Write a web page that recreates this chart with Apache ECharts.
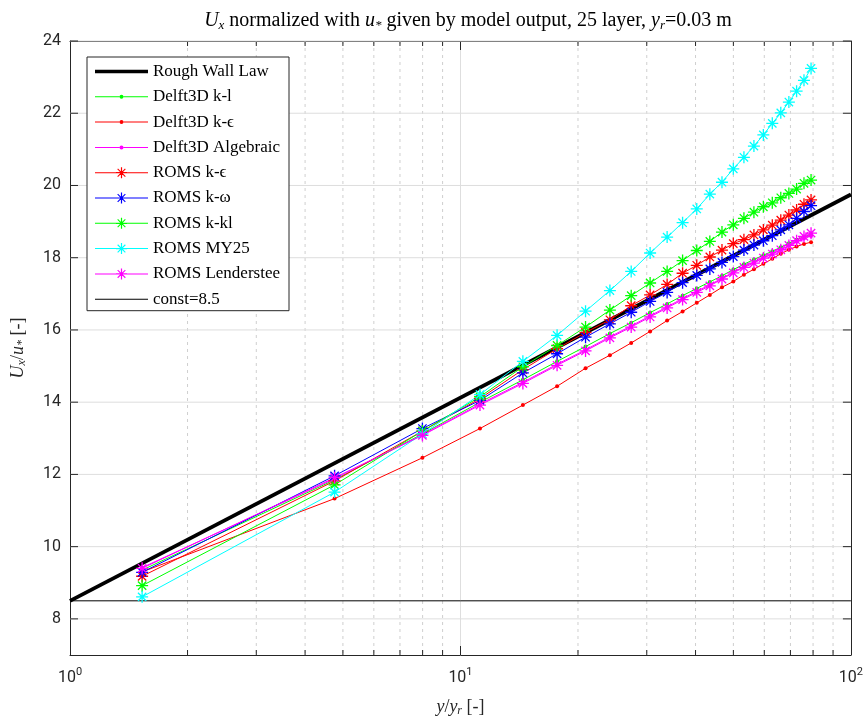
<!DOCTYPE html>
<html>
<head>
<meta charset="utf-8">
<script src="https://cdn.jsdelivr.net/npm/echarts@6/dist/echarts.min.js"></script>
<style>html,body{margin:0;padding:0;background:#fff}#c{width:866px;height:722px}</style>
</head>
<body>
<div id="c"></div>
<script>
// ---- data ----
const xPos = [1.53, 4.76, 7.99, 11.22, 14.45, 17.68, 20.91, 24.14, 27.37, 30.60, 33.83, 37.06, 40.29, 43.52, 46.75, 49.98, 53.21, 56.44, 59.67, 62.90, 66.13, 69.36, 72.59, 75.82, 79.05];
const roughLawX = [1, 100];
const roughLawY = [8.5, 19.75];
const constX = [1, 100];
const constY = [8.5, 8.5];
const delftKL    = [9.35, 11.85, 13.12, 14.00, 14.62, 15.13, 15.54, 15.90, 16.20, 16.48, 16.72, 16.95, 17.15, 17.33, 17.50, 17.67, 17.82, 17.95, 18.07, 18.18, 18.29, 18.40, 18.50, 18.58, 18.64];
const delftKEps  = [9.30, 11.33, 12.46, 13.27, 13.92, 14.44, 14.94, 15.30, 15.64, 15.96, 16.26, 16.51, 16.75, 16.97, 17.18, 17.34, 17.53, 17.68, 17.83, 17.97, 18.11, 18.22, 18.31, 18.38, 18.43];
const delftAlg   = [9.42, 11.88, 13.10, 13.95, 14.55, 15.05, 15.45, 15.81, 16.11, 16.39, 16.64, 16.87, 17.07, 17.25, 17.43, 17.60, 17.75, 17.88, 18.00, 18.11, 18.22, 18.33, 18.44, 18.53, 18.60];
const romsKEps   = [9.18, 11.82, 13.20, 14.10, 14.90, 15.48, 15.93, 16.28, 16.67, 16.97, 17.26, 17.57, 17.79, 18.02, 18.21, 18.39, 18.50, 18.63, 18.77, 18.90, 19.04, 19.18, 19.32, 19.48, 19.60];
const romsKOmega = [9.29, 11.96, 13.27, 14.05, 14.81, 15.34, 15.80, 16.17, 16.49, 16.79, 17.04, 17.31, 17.51, 17.69, 17.87, 18.03, 18.21, 18.35, 18.47, 18.61, 18.77, 18.91, 19.09, 19.28, 19.44];
const romsKKL    = [8.92, 11.71, 13.20, 14.15, 14.98, 15.57, 16.08, 16.55, 16.95, 17.30, 17.62, 17.92, 18.20, 18.45, 18.71, 18.91, 19.09, 19.26, 19.41, 19.52, 19.66, 19.78, 19.90, 20.06, 20.15];
const romsMY25   = [8.61, 11.51, 13.12, 14.21, 15.13, 15.85, 16.52, 17.09, 17.62, 18.13, 18.57, 18.97, 19.35, 19.76, 20.09, 20.46, 20.78, 21.09, 21.40, 21.72, 22.01, 22.31, 22.61, 22.91, 23.24];
const romsLend   = [9.40, 11.91, 13.08, 13.92, 14.52, 15.02, 15.42, 15.78, 16.08, 16.36, 16.61, 16.84, 17.04, 17.22, 17.41, 17.58, 17.73, 17.85, 17.99, 18.10, 18.22, 18.34, 18.47, 18.59, 18.68];
const xMinorTicks = [2, 3, 4, 5, 6, 7, 8, 9, 20, 30, 40, 50, 60, 70, 80, 90];
const yTicks = [8, 10, 12, 14, 16, 18, 20, 22, 24];
const xMin = 1, xMax = 100, yMin = 7, yMax = 24;

// ---- styling helpers ----
const AX = '#262626';
const SERIF = "'Liberation Serif', 'DejaVu Serif', serif";
const SANS = "Roboto, 'Liberation Sans', sans-serif";
const STAR = 'path://M8.9,0 L11.1,0 L11.1,20 L8.9,20 Z M0,8.9 L20,8.9 L20,11.1 L0,11.1 Z M2.3,3.8 L3.8,2.3 L17.7,16.2 L16.2,17.7 Z M16.2,2.3 L17.7,3.8 L3.8,17.7 L2.3,16.2 Z';
const CORNERS = ' M0,0 L0.01,0 L0,0.01 Z M53,12 L52.99,12 L53,11.99 Z';
const ICON_THICK = 'path://M0,4.2 L53,4.2 L53,7.8 L0,7.8 Z' + CORNERS;
const ICON_THIN = 'path://M0,5.5 L53,5.5 L53,6.5 L0,6.5 Z' + CORNERS;
const ICON_DOT = 'path://M0,5.5 L24.5,5.5 L24.5,6.5 L0,6.5 Z M28.5,5.5 L53,5.5 L53,6.5 L28.5,6.5 Z M24.5,6 A2,2 0 1,1 28.5,6 A2,2 0 1,1 24.5,6 Z' + CORNERS;
const ICON_STAR = 'path://M0,5.5 L21,5.5 L21,6.5 L0,6.5 Z M32,5.5 L53,5.5 L53,6.5 L32,6.5 Z ' +
  'M25.9,0.5 L27.1,0.5 L27.1,11.5 L25.9,11.5 Z M21,5.4 L32,5.4 L32,6.6 L21,6.6 Z ' +
  'M22.265,2.535 L23.035,1.765 L30.735,9.465 L29.965,10.235 Z M29.965,1.765 L30.735,2.535 L23.035,10.235 L22.265,9.465 Z' + CORNERS;

function pairs(xs, ys) { return xs.map((x, i) => [x, ys[i]]); }

function delftSeries(name, color, ys) {
  return { name, type: 'line', data: pairs(xPos, ys), symbol: 'circle', symbolSize: 4,
    lineStyle: { color, width: 1 }, itemStyle: { color, borderWidth: 0 }, emphasis: { disabled: true } };
}
function romsSeries(name, color, ys) {
  return { name, type: 'line', data: pairs(xPos, ys), symbol: STAR, symbolSize: 12,
    lineStyle: { color, width: 1 }, itemStyle: { color, borderWidth: 0 }, emphasis: { disabled: true } };
}

const chart = echarts.init(document.getElementById('c'), null, { renderer: 'canvas' });
const option = {
  animation: false,
  backgroundColor: '#fff',
  title: {
    text: '{i|U}{sub|x} normalized with {i|u}{sub|*} given by model output, 25 layer, {i|y}{sub|r}=0.03 m',
    left: 463, top: 5, textAlign: 'center',
    textStyle: {
      fontFamily: SERIF, fontSize: 20, fontWeight: 'normal', color: '#000',
      rich: {
        i: { fontFamily: SERIF, fontSize: 20, fontStyle: 'italic', color: '#000' },
        sub: { fontFamily: SERIF, fontSize: 13, fontStyle: 'italic', color: '#000', padding: [9, 0, 0, 0] }
      }
    }
  },
  grid: { left: 70, right: 14, top: 41, bottom: 65, containLabel: false },
  legend: {
    orient: 'vertical', left: 87, top: 57,
    itemWidth: 53, itemHeight: 12, itemGap: 8.3,
    padding: [6, 9, 3, 8],
    backgroundColor: '#fff', borderColor: AX, borderWidth: 1,
    itemStyle: { borderWidth: 0 },
    textStyle: { fontFamily: SERIF, fontSize: 17, color: '#000' },
    selectedMode: false,
    data: [
      { name: 'Rough Wall Law', icon: ICON_THICK },
      { name: 'Delft3D k-l', icon: ICON_DOT },
      { name: 'Delft3D k-ϵ', icon: ICON_DOT },
      { name: 'Delft3D Algebraic', icon: ICON_DOT },
      { name: 'ROMS k-ϵ', icon: ICON_STAR },
      { name: 'ROMS k-ω', icon: ICON_STAR },
      { name: 'ROMS k-kl', icon: ICON_STAR },
      { name: 'ROMS MY25', icon: ICON_STAR },
      { name: 'ROMS Lenderstee', icon: ICON_STAR },
      { name: 'const=8.5', icon: ICON_THIN }
    ]
  },
  xAxis: [{
    type: 'log', logBase: 10, min: xMin, max: xMax, position: 'bottom',
    name: '{i|y}/{i|y}{sub|r} [-]', nameLocation: 'middle', nameGap: 42,
    nameTextStyle: {
      fontFamily: SERIF, fontSize: 18, color: AX,
      rich: {
        i: { fontFamily: SERIF, fontSize: 18, fontStyle: 'italic', color: AX },
        sub: { fontFamily: SERIF, fontSize: 12, fontStyle: 'italic', color: AX, padding: [8, 0, 0, 0] }
      }
    },
    axisLine: { show: true, onZero: false, lineStyle: { color: AX, width: 1 } },
    axisTick: { show: true, inside: true, length: 9, lineStyle: { color: AX } },
    splitLine: { show: true, lineStyle: { color: '#dedede', width: 1 } },
    axisLabel: {
      margin: 12, color: AX,
      formatter: function (v) { return '{b|10}{s|' + Math.round(Math.log10(v)) + '}'; },
      rich: {
        b: { fontFamily: SANS, fontSize: 16, color: AX },
        s: { fontFamily: SANS, fontSize: 11, color: AX, padding: [0, 0, 10, 0] }
      }
    }
  }, {
    type: 'log', logBase: 10, min: xMin, max: xMax, position: 'top',
    axisLine: { show: true, onZero: false, lineStyle: { color: AX, width: 1 } },
    axisTick: { show: true, inside: true, length: 9, lineStyle: { color: AX } },
    splitLine: { show: false }, axisLabel: { show: false }
  }],
  yAxis: [{
    type: 'value', min: yMin, max: yMax, interval: 1, position: 'left',
    name: '{i|U}{sub|x}/{i|u}{sub|*} [-]', nameLocation: 'middle', nameGap: 42, nameRotate: 90,
    nameTextStyle: {
      fontFamily: SERIF, fontSize: 18, color: AX,
      rich: {
        i: { fontFamily: SERIF, fontSize: 18, fontStyle: 'italic', color: AX },
        sub: { fontFamily: SERIF, fontSize: 12, fontStyle: 'italic', color: AX, padding: [8, 0, 0, 0] }
      }
    },
    axisLine: { show: true, onZero: false, lineStyle: { color: AX, width: 1 } },
    axisTick: { show: false }, splitLine: { show: false },
    axisLabel: {
      margin: 9, color: AX, fontFamily: SANS, fontSize: 16,
      formatter: function (v) { return yTicks.indexOf(v) >= 0 ? String(v) : ''; }
    }
  }, {
    type: 'value', min: yMin, max: yMax, interval: 1, position: 'right',
    axisLine: { show: true, onZero: false, lineStyle: { color: AX, width: 1 } },
    axisTick: { show: false }, splitLine: { show: false }, axisLabel: { show: false }
  }],
  series: [
    {
      name: 'xMinorGrid', type: 'custom', silent: true, z: 1,
      data: xMinorTicks.map(v => [v, yMin]),
      renderItem: function (params, api) {
        const v = api.value(0);
        const top = api.coord([v, yMax]);
        const bot = api.coord([v, yMin]);
        return { type: 'group', children: [
          { type: 'line', shape: { x1: top[0], y1: top[1], x2: bot[0], y2: bot[1] },
            style: { stroke: '#cfcfcf', lineWidth: 1, lineDash: [3, 4] } },
          { type: 'line', shape: { x1: bot[0], y1: bot[1], x2: bot[0], y2: bot[1] - 5 },
            style: { stroke: AX, lineWidth: 1 } },
          { type: 'line', shape: { x1: top[0], y1: top[1], x2: top[0], y2: top[1] + 5 },
            style: { stroke: AX, lineWidth: 1 } }
        ] };
      }
    },
    {
      name: 'yGrid', type: 'custom', silent: true, z: 1,
      data: yTicks.map(v => [xMin, v]),
      renderItem: function (params, api) {
        const v = api.value(1);
        const l = api.coord([xMin, v]);
        const r = api.coord([xMax, v]);
        return { type: 'group', children: [
          { type: 'line', shape: { x1: l[0], y1: l[1], x2: r[0], y2: r[1] },
            style: { stroke: '#dedede', lineWidth: 1 } },
          { type: 'line', shape: { x1: l[0], y1: l[1], x2: l[0] + 8, y2: l[1] },
            style: { stroke: AX, lineWidth: 1 } },
          { type: 'line', shape: { x1: r[0], y1: r[1], x2: r[0] - 8, y2: r[1] },
            style: { stroke: AX, lineWidth: 1 } }
        ] };
      }
    },
    { name: 'Rough Wall Law', type: 'line', data: pairs(roughLawX, roughLawY), symbol: 'none',
      lineStyle: { color: '#000', width: 3.8 }, itemStyle: { color: '#000' }, emphasis: { disabled: true } },
    delftSeries('Delft3D k-l', '#00ff00', delftKL),
    delftSeries('Delft3D k-ϵ', '#ff0000', delftKEps),
    delftSeries('Delft3D Algebraic', '#ff00ff', delftAlg),
    romsSeries('ROMS k-ϵ', '#ff0000', romsKEps),
    romsSeries('ROMS k-ω', '#0000ff', romsKOmega),
    romsSeries('ROMS k-kl', '#00ff00', romsKKL),
    romsSeries('ROMS MY25', '#00ffff', romsMY25),
    romsSeries('ROMS Lenderstee', '#ff00ff', romsLend),
    { name: 'const=8.5', type: 'line', data: pairs(constX, constY), symbol: 'none',
      lineStyle: { color: '#000', width: 1 }, itemStyle: { color: '#000' }, emphasis: { disabled: true } }
  ]
};
chart.setOption(option);
</script>
</body>
</html>
